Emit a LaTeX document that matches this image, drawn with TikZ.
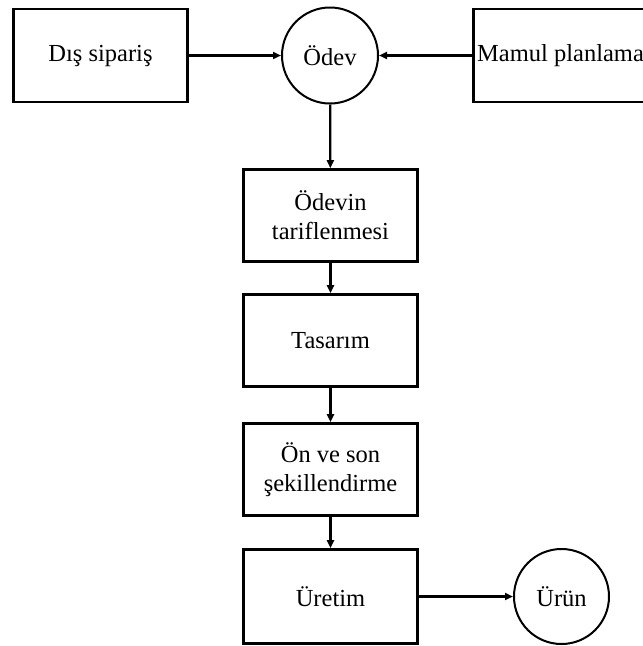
\documentclass[tikz,border=0pt]{standalone}
\usepackage{fontspec}
\setmainfont{Liberation Serif}
\usetikzlibrary{arrows.meta}
\begin{document}
\begin{tikzpicture}[x=1pt,y=-1pt,
  every node/.style={font=\fontsize{24.5}{29}\selectfont, align=center, inner sep=0pt},
  boxnode/.style={draw, line width=2.6pt, minimum width=174pt, minimum height=93pt},
  circnode/.style={draw, circle, line width=2pt, minimum size=96pt},
  conn/.style={line width=2.2pt, -{Triangle[length=8pt,width=7pt]}}]
\useasboundingbox (0,0) rectangle (643,646);
\node[boxnode] (dis) at (100.5,55.5) {Dış sipariş};
\node[circnode] (odev) at (330,55.5) {Ödev};
\node[boxnode] (mamul) at (560.5,55.5) {Mamul planlama};
\node[boxnode, minimum height=92pt] (b1) at (330.5,215.5) {Ödevin\\tariflenmesi};
\node[boxnode, minimum height=92pt] (b2) at (330.5,340.5) {Tasarım};
\node[boxnode, minimum height=92pt] (b3) at (330.5,469.5) {Ön ve son\\şekillendirme};
\node[boxnode, minimum height=94pt] (b4) at (330.5,596.5) {Üretim};
\node[circnode, minimum size=95pt] (urun) at (561.5,596.5) {Ürün};
\draw[conn] (dis) -- (odev);
\draw[conn] (mamul) -- (odev);
\draw[conn] (odev) -- (b1);
\draw[conn] (b1) -- (b2);
\draw[conn] (b2) -- (b3);
\draw[conn] (b3) -- (b4);
\draw[conn] (b4) -- (urun);
\end{tikzpicture}
\end{document}
